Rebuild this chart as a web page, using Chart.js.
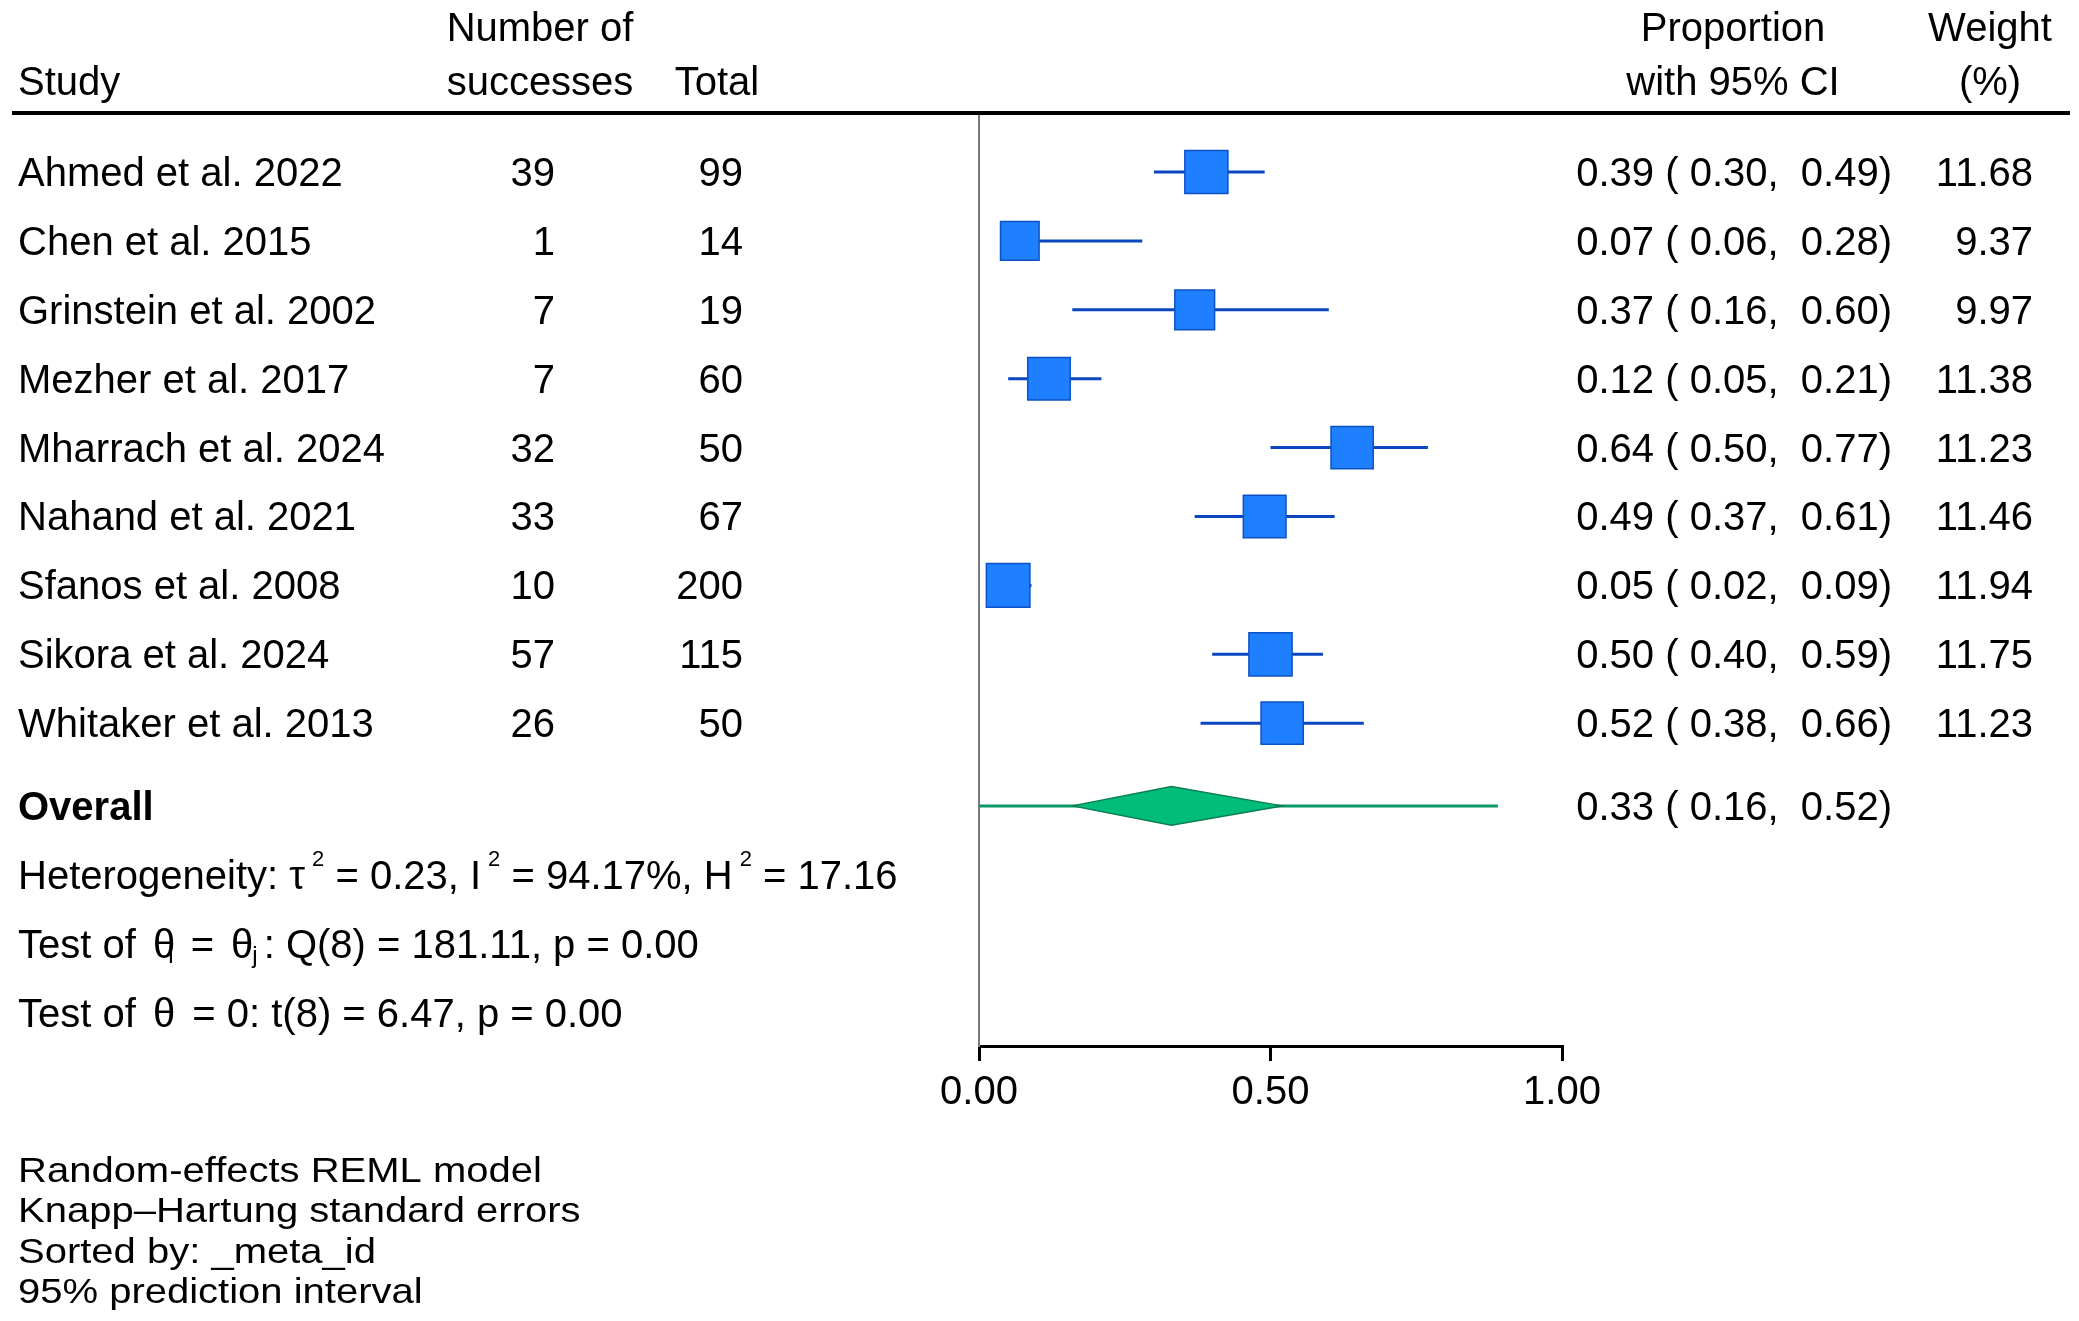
<!DOCTYPE html>
<html>
<head>
<meta charset="utf-8">
<script src="https://cdn.jsdelivr.net/npm/chart.js@4.4.1/dist/chart.umd.min.js"></script>
<style>
  html, body { margin: 0; padding: 0; background: #fff; }
  canvas { display: block; }
</style>
</head>
<body>
<canvas id="forest" width="2079" height="1321"></canvas>
<script>
// study table
const studies = ['Ahmed et al. 2022', 'Chen et al. 2015', 'Grinstein et al. 2002', 'Mezher et al. 2017',
    'Mharrach et al. 2024', 'Nahand et al. 2021', 'Sfanos et al. 2008', 'Sikora et al. 2024', 'Whitaker et al. 2013'];
const successes = [39, 1, 7, 7, 32, 33, 10, 57, 26];
const totals = [99, 14, 19, 60, 50, 67, 200, 115, 50];
const proportions = [0.39, 0.07, 0.37, 0.12, 0.64, 0.49, 0.05, 0.50, 0.52];
const ciLower = [0.30, 0.06, 0.16, 0.05, 0.50, 0.37, 0.02, 0.40, 0.38];
const ciUpper = [0.49, 0.28, 0.60, 0.21, 0.77, 0.61, 0.09, 0.59, 0.66];
const weights = [11.68, 9.37, 9.97, 11.38, 11.23, 11.46, 11.94, 11.75, 11.23];

// pooled estimate
const overallEst = 0.33;
const overallLow = 0.16;
const overallHigh = 0.52;
const predInterval = [0.00, 0.89];

const xTicks = [0, 0.5, 1];

const notes = ['Random-effects REML model', 'Knapp\u2013Hartung standard errors', 'Sorted by: _meta_id', '95% prediction interval'];

const FONT = '"Liberation Sans", Arial, sans-serif';
Chart.defaults.font.family = FONT;
Chart.defaults.color = '#000';

const overallRow = 9.2;
const statRows = [10.2, 11.2, 12.2];
const diamondHalf = 0.28;

function squareSide(w) { return 12.6 * Math.sqrt(w); }

// draw text pieces with sup/sub scripts
function drawRuns(ctx, runs, x, y) {
    runs.forEach(r => {
        x += r.pre || 0;
        if (r.sup) {
            ctx.font = '22px ' + FONT;
            x += 7;
            ctx.fillText(r.t, x, y - 23);
        } else if (r.sub) {
            ctx.font = '24px ' + FONT;
            ctx.fillText(r.t, x, y + 5);
        } else {
            ctx.font = '40px ' + FONT;
            ctx.fillText(r.t, x, y);
        }
        x += ctx.measureText(r.t).width + (r.post || 0);
    });
}

const tablePlugin = {
    id: 'table',
    afterDraw(chart) {
        const ctx = chart.ctx;
        const ys = chart.scales.y;
        const base = r => ys.getPixelForValue(r) + 14;
        const top = chart.chartArea.top;
        ctx.save();

        ctx.strokeStyle = '#000';
        ctx.lineWidth = 4;
        ctx.beginPath();
        ctx.moveTo(12, top);
        ctx.lineTo(2070, top);
        ctx.stroke();

        ctx.fillStyle = '#000';
        ctx.textBaseline = 'alphabetic';
        ctx.font = '40px ' + FONT;

        // header
        ctx.textAlign = 'left';
        ctx.fillText('Study', 18, 95);
        ctx.textAlign = 'center';
        ctx.fillText('Number of', 540, 41);
        ctx.fillText('successes', 540, 95);
        ctx.fillText('Total', 717, 95);
        ctx.fillText('Proportion', 1733, 41);
        ctx.fillText('with 95% CI', 1733, 95);
        ctx.fillText('Weight', 1990, 41);
        ctx.fillText('(%)', 1990, 95);

        // rows
        studies.forEach((s, i) => {
            const y = base(i);
            ctx.textAlign = 'left';
            ctx.fillText(s, 18, y);
            ctx.textAlign = 'right';
            ctx.fillText(String(successes[i]), 555, y);
            ctx.fillText(String(totals[i]), 743, y);
            ctx.fillText(proportions[i].toFixed(2) + ' ( ' + ciLower[i].toFixed(2) + ',  ' + ciUpper[i].toFixed(2) + ')', 1892, y);
            ctx.fillText(weights[i].toFixed(2), 2033, y);
        });

        const yo = base(overallRow);
        ctx.textAlign = 'left';
        ctx.font = 'bold 40px ' + FONT;
        ctx.fillText('Overall', 18, yo);
        ctx.font = '40px ' + FONT;
        ctx.textAlign = 'right';
        ctx.fillText(overallEst.toFixed(2) + ' ( ' + overallLow.toFixed(2) + ',  ' + overallHigh.toFixed(2) + ')', 1892, yo);

        ctx.textAlign = 'left';
        drawRuns(ctx, [{t: 'Heterogeneity: \u03c4'}, {t: '2', sup: true}, {t: ' = 0.23, I'}, {t: '2', sup: true},
            {t: ' = 94.17%, H'}, {t: '2', sup: true}, {t: ' = 17.16'}], 18, base(statRows[0]));
        drawRuns(ctx, [{t: 'Test of '}, {t: '\u03b8', pre: 6}, {t: 'i', sub: true, pre: -7}, {t: ' = ', pre: 6},
            {t: '\u03b8', pre: 6}, {t: 'j', sub: true, pre: -1}, {t: ': Q(8) = 181.11, p = 0.00', pre: 6}], 18, base(statRows[1]));
        drawRuns(ctx, [{t: 'Test of '}, {t: '\u03b8', pre: 6, post: 6}, {t: ' = 0: t(8) = 6.47, p = 0.00'}], 18, base(statRows[2]));

        // notes, squeezed a bit vertically like the original
        ctx.save();
        ctx.scale(1, 0.875);
        ctx.font = '40px ' + FONT;
        notes.forEach((t, k) => ctx.fillText(t, 18, (1182 + 40.4 * k) / 0.875));
        ctx.restore();

        ctx.restore();
    }
};

const ciSets = studies.map((s, i) => ({
    type: 'line',
    label: s,
    data: [{x: ciLower[i], y: i}, {x: ciUpper[i], y: i}],
    borderColor: '#0b46c2',
    borderWidth: 3,
    pointRadius: 0,
    order: 2,
}));

var forestChart = new Chart(document.getElementById('forest'), {
    type: 'scatter',
    data: {
        datasets: [
            {
                label: 'Studies',
                data: proportions.map((p, i) => ({x: p, y: i})),
                pointStyle: 'rect',
                pointRadius: c => squareSide(weights[c.dataIndex]) / Math.SQRT2,
                pointBackgroundColor: '#1e80ff',
                pointBorderColor: '#0d52c4',
                pointBorderWidth: 1.5,
                clip: false,
                order: 0,
            },
            ...ciSets,
            {
                type: 'line',
                label: 'Overall',
                data: [
                    {x: overallLow, y: overallRow},
                    {x: overallEst, y: overallRow - diamondHalf},
                    {x: overallHigh, y: overallRow},
                    {x: overallEst, y: overallRow + diamondHalf},
                    {x: overallLow, y: overallRow},
                ],
                fill: 'shape',
                backgroundColor: '#00bd7a',
                borderColor: '#0b7d52',
                borderWidth: 1.5,
                pointRadius: 0,
                tension: 0,
                order: 3,
            },
            {
                type: 'line',
                label: 'Prediction interval',
                data: [{x: predInterval[0], y: overallRow}, {x: predInterval[1], y: overallRow}],
                borderColor: '#089a64',
                borderWidth: 3,
                pointRadius: 0,
                order: 4,
            },
        ]
    },
    options: {
        responsive: false,
        animation: false,
        devicePixelRatio: 1,
        events: [],
        layout: {padding: {left: 979, right: 517, top: 113, bottom: 205}},
        plugins: {legend: {display: false}, tooltip: {enabled: false}},
        scales: {
            x: {
                type: 'linear',
                min: 0,
                max: 1,
                afterBuildTicks: s => { s.ticks = xTicks.map(v => ({value: v})); },
                afterFit: s => { s.height = 70; },
                ticks: {callback: v => Number(v).toFixed(2), font: {size: 40}, color: '#000', padding: 8, maxRotation: 0},
                grid: {drawOnChartArea: false, drawTicks: true, tickLength: 15, color: '#000', lineWidth: 3},
                border: {display: true, color: '#000', width: 3},
            },
            y: {
                type: 'linear',
                reverse: true,
                min: -0.856,
                max: 12.685,
                afterFit: s => { s.width = 0; },
                ticks: {display: false},
                grid: {display: false, drawTicks: false},
                border: {display: true, color: '#7a7a7a', width: 2},
            }
        }
    },
    plugins: [tablePlugin]
});
</script>
</body>
</html>
